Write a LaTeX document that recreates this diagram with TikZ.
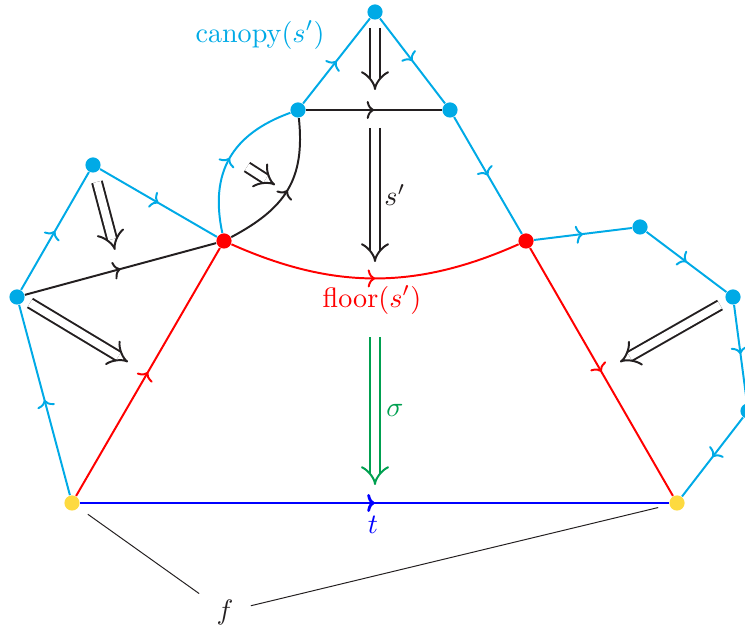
\documentclass[tikz,border=0pt]{standalone}
\usetikzlibrary{arrows.meta,decorations.markings}

\definecolor{sky}{RGB}{0,170,230}
\definecolor{ink}{RGB}{35,31,32}
\definecolor{leaf}{RGB}{0,160,80}
\definecolor{sun}{RGB}{253,218,64}

\tikzset{
  pt/.style={circle,fill=#1,inner sep=0pt,minimum size=5.4pt},
  midarr/.style={postaction={decorate},
    decoration={markings,mark=at position 0.5 with {\arrow{To[length=2.6pt,width=6.4pt]}}}},
  edge/.style={line width=0.7pt,midarr},
  dbl/.style={draw=#1,double,double distance=2.8pt,line width=0.7pt,
    -{Implies[length=5pt,width=10pt]}},
  dbl/.default=ink
}

\begin{document}
\begin{tikzpicture}[x=0.0125cm,y=0.0125cm]
\useasboundingbox (0,0) rectangle (745,632);

% vertices
\node[pt=sky] (T)  at (375,620) {};
\node[pt=sky] (UL) at (298,522) {};
\node[pt=sky] (UR) at (450,522) {};
\node[pt=red] (L)  at (224,391) {};
\node[pt=red] (R)  at (526,391) {};
\node[pt=sky] (A)  at (93,467) {};
\node[pt=sky] (B)  at (17,335) {};
\node[pt=sky] (C)  at (640,405) {};
\node[pt=sky] (D)  at (733,335) {};
\node[pt=sky] (E)  at (748,221) {};
\node[pt=sun] (Y1) at (72,129) {};
\node[pt=sun] (Y2) at (677,129) {};

% cyan boundary
\draw[edge,sky] (Y1) -- (B);
\draw[edge,sky] (B) -- (A);
\draw[edge,sky] (A) -- (L);
\draw[edge,sky] (L) to[out=102,in=200,looseness=1.15] (UL);
\draw[edge,sky] (UL) -- (T);
\draw[edge,sky] (T) -- (UR);
\draw[edge,sky] (UR) -- (R);
\draw[edge,sky] (R) -- (C);
\draw[edge,sky] (C) -- (D);
\draw[edge,sky] (D) -- (E);
\draw[edge,sky] (E) -- (Y2);

% black inner edges
\draw[edge,ink] (B) -- (L);
\draw[edge,ink] (UL) -- (UR);
\draw[edge,ink] (L) to[out=28,in=-84,looseness=1.15] (UL);

% floor
\draw[edge,red] (Y1) -- (L);
\draw[edge,red] (L) to[bend right=24] (R);
\draw[edge,red] (R) -- (Y2);

% t
\draw[line width=1pt,blue,midarr] (Y1) -- (Y2);

% 2-cells
\coordinate (a1) at (375,604); \coordinate (a2) at (375,542);
\coordinate (s1) at (375,504); \coordinate (s2) at (375,370);
\coordinate (g1) at (375,295); \coordinate (g2) at (375,147);
\coordinate (p1) at (97,450);  \coordinate (p2) at (115,382);
\coordinate (q1) at (30,329);  \coordinate (q2) at (128,270);
\coordinate (m1) at (247,465); \coordinate (m2) at (275,447);
\coordinate (r1) at (720,327); \coordinate (r2) at (620,270);
\draw[dbl] (a1) -- (a2);
\draw[dbl] (s1) -- (s2);
\draw[dbl=leaf] (g1) -- (g2);
\draw[dbl] (p1) -- (p2);
\draw[dbl] (q1) -- (q2);
\draw[dbl] (m1) -- (m2);
\draw[dbl] (r1) -- (r2);

% labels
\node[text=sky] (canopy) at (260,597) {canopy$(s')$};
\node[text=red] (floor) at (372,332) {floor$(s')$};
\node[text=ink] (sl) at (395,437) {$s'$};
\node[text=leaf] (sig) at (395,222) {$\sigma$};
\node[text=blue] (tl) at (373,107) {$t$};
\node[text=ink,inner sep=6pt] (f) at (225,20) {$f$};
\draw[ink,line width=0.35pt,shorten >=4pt] (f) -- (Y1);
\draw[ink,line width=0.35pt,shorten >=4pt] (f) -- (Y2);
\end{tikzpicture}
\end{document}
